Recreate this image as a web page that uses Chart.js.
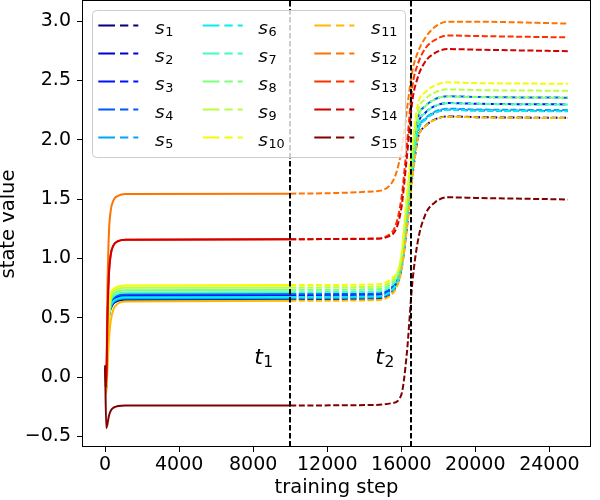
<!DOCTYPE html>
<html>
<head>
<meta charset="utf-8">
<script src="https://cdn.jsdelivr.net/npm/chart.js@4.4.1/dist/chart.umd.min.js"></script>
<style>
html, body { margin: 0; padding: 0; background: #fff; }
#wrap { width: 600px; height: 500px; }
</style>
</head>
<body>
<div id="wrap"><canvas id="myChart" width="600" height="500"></canvas></div>
<script>
const steps = [0, 60, 120, 200, 300, 450, 700, 1100, 10000,
    14500, 15500, 16000, 16300, 16600, 16900, 17300, 17800, 18500, 20000, 25000];

// state values, one list per state
const s1  = [0.05, -0.12, 0.25, 0.50, 0.575, 0.620, 0.643, 0.652, 0.655,
    0.660, 0.715, 0.905, 1.26, 1.69, 2.015, 2.115, 2.170, 2.197, 2.191, 2.185];
const s2  = [0.05, -0.12, 0.25, 0.50, 0.600, 0.645, 0.668, 0.677, 0.680,
    0.685, 0.740, 0.930, 1.31, 1.74, 2.072, 2.172, 2.227, 2.254, 2.248, 2.242];
const s3  = [0.05, -0.12, 0.25, 0.50, 0.610, 0.655, 0.678, 0.687, 0.690,
    0.695, 0.750, 0.940, 1.37, 1.80, 2.128, 2.228, 2.283, 2.310, 2.304, 2.298];
const s4  = [0.05, -0.12, 0.25, 0.50, 0.620, 0.665, 0.688, 0.697, 0.700,
    0.705, 0.760, 0.950, 1.42, 1.85, 2.185, 2.285, 2.340, 2.367, 2.361, 2.355];
const s5  = [0.05, -0.12, 0.25, 0.50, 0.585, 0.630, 0.653, 0.662, 0.665,
    0.670, 0.725, 0.915, 1.32, 1.75, 2.080, 2.180, 2.235, 2.262, 2.256, 2.250];
const s6  = [0.05, -0.12, 0.25, 0.50, 0.595, 0.640, 0.663, 0.672, 0.675,
    0.680, 0.735, 0.925, 1.31, 1.74, 2.070, 2.170, 2.225, 2.252, 2.246, 2.240];
const s7  = [0.05, -0.12, 0.25, 0.50, 0.635, 0.680, 0.703, 0.712, 0.715,
    0.720, 0.775, 0.965, 1.37, 1.80, 2.127, 2.227, 2.282, 2.309, 2.303, 2.297];
const s8  = [0.05, -0.12, 0.25, 0.50, 0.655, 0.700, 0.723, 0.732, 0.735,
    0.740, 0.795, 0.985, 1.42, 1.85, 2.184, 2.284, 2.339, 2.366, 2.360, 2.354];
const s9  = [0.05, -0.12, 0.25, 0.50, 0.675, 0.720, 0.743, 0.752, 0.755,
    0.760, 0.815, 1.005, 1.48, 1.91, 2.243, 2.343, 2.398, 2.425, 2.419, 2.413];
const s10 = [0.05, -0.12, 0.25, 0.50, 0.695, 0.740, 0.763, 0.772, 0.775,
    0.780, 0.835, 1.025, 1.54, 1.97, 2.302, 2.402, 2.457, 2.484, 2.478, 2.472];
const s11 = [0.05, -0.14, 0.05, 0.30, 0.470, 0.570, 0.620, 0.636, 0.642,
    0.647, 0.700, 0.890, 1.25, 1.68, 2.013, 2.113, 2.168, 2.195, 2.189, 2.183];
const s12 = [0.05, -0.05, 0.70, 1.20, 1.400, 1.490, 1.528, 1.542, 1.546,
    1.565, 1.640, 1.900, 2.25, 2.58, 2.740, 2.860, 2.950, 2.995, 2.995, 2.980];
const s13 = [0.08, -0.08, 0.45, 0.85, 1.030, 1.110, 1.145, 1.158, 1.162,
    1.167, 1.220, 1.500, 1.95, 2.45, 2.640, 2.770, 2.840, 2.880, 2.875, 2.863];
const s14 = [0.08, -0.08, 0.45, 0.85, 1.030, 1.110, 1.145, 1.158, 1.162,
    1.165, 1.200, 1.420, 1.85, 2.33, 2.530, 2.660, 2.730, 2.765, 2.760, 2.747];
const s15 = [0.10, -0.43, -0.40, -0.33, -0.285, -0.258, -0.245, -0.241, -0.240,
    -0.236, -0.220, -0.150, 0.20, 0.80, 1.150, 1.370, 1.470, 1.515, 1.510, 1.497];

const seriesValues = [s1, s2, s3, s4, s5, s6, s7, s8, s9, s10, s11, s12, s13, s14, s15];
const seriesIndex = ['1', '2', '3', '4', '5', '6', '7', '8', '9', '10', '11', '12', '13', '14', '15'];
// jet colormap sampled at 15 points
const seriesColors = ['#000080', '#0000d1', '#0010ff', '#0058ff', '#00a4ff',
    '#06ecf1', '#40ffb7', '#7dff7a', '#b7ff40', '#f1fc06',
    '#ffb900', '#ff7300', '#ff3000', '#d10000', '#800000'];

const xTicks = [0, 4000, 8000, 12000, 16000, 20000, 24000];
const yTicks = [-0.5, 0, 0.5, 1.0, 1.5, 2.0, 2.5, 3.0];

// phase markers
const markSteps = [10000, 16500];
const markLabels = ['1', '2'];
const markLabelSteps = [8050, 14600];
const markLabelValue = 0.11;

const FONT = '"DejaVu Sans", sans-serif';
Chart.defaults.font.family = FONT;
Chart.defaults.color = '#000';

// draws italic base letter with a subscript, matplotlib mathtext style
function drawSub(ctx, base, sub, x, y, size, subSize, drop) {
    ctx.font = 'italic ' + size + 'px ' + FONT;
    ctx.textAlign = 'left';
    ctx.textBaseline = 'alphabetic';
    ctx.fillText(base, x, y);
    const w = ctx.measureText(base).width;
    ctx.font = subSize + 'px ' + FONT;
    ctx.fillText(sub, x + w + 0.5, y + drop);
}

const decorPlugin = {
    id: 'decor',
    afterDatasetsDraw(chart) {
        const { ctx, chartArea: a, scales } = chart;
        ctx.save();
        // vertical phase lines
        ctx.strokeStyle = '#000';
        ctx.lineWidth = 2;
        ctx.setLineDash([5.5, 2.5]);
        markSteps.forEach(s => {
            const px = Math.round(scales.x.getPixelForValue(s));
            ctx.beginPath();
            ctx.moveTo(px, a.top);
            ctx.lineTo(px, a.bottom);
            ctx.stroke();
        });
        ctx.setLineDash([]);
        // frame
        ctx.lineWidth = 1;
        ctx.strokeRect(a.left + 0.5, a.top - 0.5, a.right - a.left - 1, a.bottom - a.top);
        // t labels
        ctx.fillStyle = '#000';
        markLabels.forEach((m, i) => {
            const px = scales.x.getPixelForValue(markLabelSteps[i]);
            const py = scales.y.getPixelForValue(markLabelValue);
            drawSub(ctx, 't', m, px, py, 22, 15.5, 3.3);
        });
        ctx.restore();
    },
    afterDraw(chart) {
        const ctx = chart.ctx;
        ctx.save();
        // legend frame
        ctx.beginPath();
        ctx.roundRect(92.5, 10.5, 313, 147, 4);
        ctx.fillStyle = 'rgba(255,255,255,0.8)';
        ctx.fill();
        ctx.strokeStyle = '#cccccc';
        ctx.lineWidth = 1;
        ctx.stroke();
        const lineX = [98.3, 202.7, 314.3];
        const textX = [155, 258.3, 371];
        seriesIndex.forEach((n, i) => {
            const col = Math.floor(i / 5), row = i % 5;
            const y = 25.5 + row * 28;
            ctx.strokeStyle = seriesColors[i];
            ctx.lineWidth = 2;
            ctx.setLineDash([16.7, 5, 8.3, 5, 5]);
            ctx.beginPath();
            ctx.moveTo(lineX[col], y);
            ctx.lineTo(lineX[col] + 40, y);
            ctx.stroke();
            ctx.setLineDash([]);
            ctx.fillStyle = '#000';
            drawSub(ctx, 's', n, textX[col], y + 8, 18.5, 12.8, 2.5);
        });
        ctx.restore();
    }
};

const chart = new Chart(document.getElementById('myChart').getContext('2d'), {
    type: 'line',
    data: {
        datasets: seriesValues.map((vals, i) => ({
            label: 's' + seriesIndex[i],
            data: steps.map((x, k) => ({ x: x, y: vals[k] })),
            borderColor: seriesColors[i],
            backgroundColor: seriesColors[i],
            borderWidth: 2,
            pointRadius: 0,
            fill: false,
            cubicInterpolationMode: 'monotone',
            order: seriesValues.length - i,
            segment: {
                borderDash: c => c.p0.parsed.x >= markSteps[0] ? [6, 2.6] : undefined
            }
        }))
    },
    options: {
        responsive: false,
        animation: false,
        events: [],
        layout: { padding: { top: 1, right: 9, left: 0, bottom: 0 } },
        plugins: { legend: { display: false }, tooltip: { enabled: false } },
        scales: {
            x: {
                type: 'linear',
                min: -1250,
                max: 26250,
                afterBuildTicks: s => { s.ticks = xTicks.map(v => ({ value: v })); },
                afterFit: s => { s.height = 53; s.paddingLeft = 0; s.paddingRight = 0; },
                grid: { drawOnChartArea: false, color: '#000', tickColor: '#000', tickLength: 5, lineWidth: 1 },
                border: { display: false },
                ticks: { color: '#000', font: { size: 19 }, padding: 2, maxRotation: 0, autoSkip: false,
                    callback: v => String(v) },
                title: { display: true, text: 'training step', color: '#000', font: { size: 19.5 },
                    padding: { top: 2, bottom: 0 } }
            },
            y: {
                type: 'linear',
                min: -0.59,
                max: 3.17,
                afterBuildTicks: s => { s.ticks = yTicks.map(v => ({ value: v })); },
                afterFit: s => { s.width = 82; s.paddingTop = 0; s.paddingBottom = 0; },
                grid: { drawOnChartArea: false, color: '#000', tickColor: '#000', tickLength: 5, lineWidth: 1 },
                border: { display: false },
                ticks: { color: '#000', font: { size: 19 }, padding: 6, autoSkip: false,
                    callback: v => (v < 0 ? '\u2212' : '') + Math.abs(v).toFixed(1) },
                title: { display: true, text: 'state value', color: '#000', font: { size: 19.5 },
                    padding: { top: -3, bottom: 0 } }
            }
        }
    },
    plugins: [decorPlugin]
});
</script>
</body>
</html>
